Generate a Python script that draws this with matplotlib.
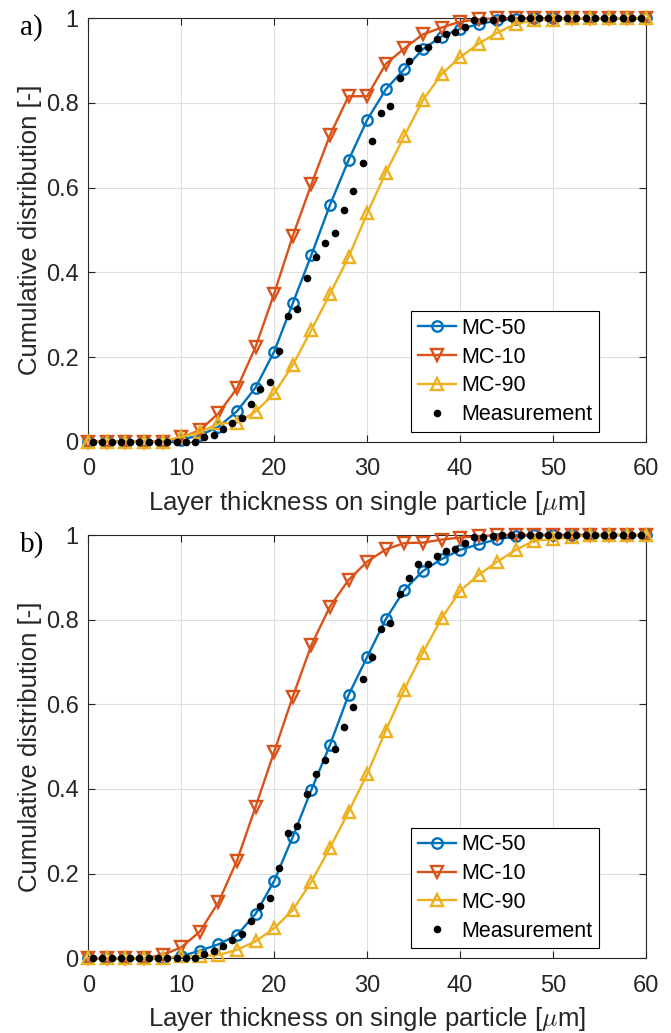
import matplotlib
matplotlib.use("Agg")
import matplotlib.pyplot as plt
import numpy as np

plt.rcParams['font.family'] = ['Liberation Sans', 'DejaVu Sans']
plt.rcParams['mathtext.fontset'] = 'cm'

# x positions of the simulation curves and of the measured points
x_mc = [0, 2, 4, 6, 8, 10, 12, 14, 16, 18, 20, 22, 24, 26, 28, 30,
        32, 34, 36, 38, 40, 42, 44, 46, 48, 50, 52, 54, 56, 58, 60]
x_meas = [0.5, 1.5, 2.5, 3.5, 4.5, 5.5, 6.5, 7.5, 8.5, 9.5, 10.5, 11.5,
          12.5, 13.5, 14.5, 15.5, 16.5, 17.5, 18.5, 19.5, 20.5, 21.5, 22.5, 23.5,
          24.5, 25.5, 26.5, 27.5, 28.5, 29.5, 30.5, 31.5, 32.5, 33.5, 34.5, 35.5,
          36.5, 37.5, 38.5, 39.5, 40.5, 41.5, 42.5, 43.5, 44.5, 45.5, 46.5, 47.5,
          48.5, 49.5, 50.5, 51.5, 52.5, 53.5, 54.5, 55.5, 56.5, 57.5, 58.5, 59.5]

meas = [0, 0, 0, 0, 0, 0, 0, 0, 0, 0, 0, 0,
        0.010, 0.017, 0.029, 0.043, 0.057, 0.089, 0.124, 0.142, 0.214, 0.297, 0.313, 0.387,
        0.436, 0.469, 0.494, 0.547, 0.593, 0.659, 0.711, 0.777, 0.793, 0.860, 0.899, 0.931,
        0.932, 0.950, 0.963, 0.967, 0.980, 0.995, 0.995, 0.997, 1, 1, 1, 1,
        1, 1, 1, 1, 1, 1, 1, 1, 1, 1, 1, 1]

# panel a)
mc50_a = [0, 0, 0, 0, 0, 0.005, 0.015, 0.035, 0.072, 0.128, 0.213, 0.327, 0.441, 0.559, 0.665, 0.760,
          0.832, 0.880, 0.927, 0.957, 0.975, 0.986, 0.995, 0.999, 1, 1, 1, 1, 1, 1, 1]
mc10_a = [0, 0, 0, 0, 0, 0.010, 0.027, 0.067, 0.126, 0.224, 0.350, 0.486, 0.608, 0.724, 0.816, 0.816,
          0.892, 0.929, 0.962, 0.978, 0.992, 0.998, 1, 1, 1, 1, 1, 1, 1, 1, 1]
mc90_a = [0, 0, 0, 0, 0, 0.012, 0.022, 0.043, 0.045, 0.071, 0.114, 0.181, 0.264, 0.349, 0.436, 0.539,
          0.635, 0.722, 0.807, 0.868, 0.908, 0.940, 0.966, 0.987, 0.995, 0.997, 1, 1, 1, 1, 1]

# panel b)
mc50_b = [0, 0, 0, 0, 0, 0.005, 0.018, 0.033, 0.055, 0.105, 0.183, 0.287, 0.398, 0.504, 0.622, 0.712,
          0.801, 0.870, 0.915, 0.943, 0.965, 0.978, 0.990, 0.997, 1, 1, 1, 1, 1, 1, 1]
mc10_b = [0, 0, 0, 0, 0.008, 0.026, 0.063, 0.132, 0.231, 0.358, 0.488, 0.618, 0.740, 0.831, 0.894, 0.937,
          0.966, 0.981, 0.982, 0.989, 0.994, 0.997, 1, 1, 1, 1, 1, 1, 1, 1, 1]
mc90_b = [0, 0, 0, 0, 0, 0.005, 0.005, 0.008, 0.020, 0.040, 0.071, 0.114, 0.181, 0.261, 0.346, 0.435,
          0.538, 0.635, 0.722, 0.803, 0.868, 0.906, 0.937, 0.965, 0.987, 0.990, 0.995, 1, 1, 1, 1]

labels = ['MC-50', 'MC-10', 'MC-90', 'Measurement']
c_blue = '#0072BD'
c_orange = '#D95319'
c_yellow = '#EDB120'
dark = '#262626'

W, H = 671, 1033
fig = plt.figure(figsize=(W / 100, H / 100), dpi=100)

def px_axes(left, top, right, bottom):
    return fig.add_axes([left / W, 1 - bottom / H, (right - left) / W, (bottom - top) / H])

ax_a = px_axes(88.3, 18.3, 646, 441.7)
ax_b = px_axes(88.3, 535, 646, 958.3)

panels = [(ax_a, mc50_a, mc10_a, mc90_a, 'a)'), (ax_b, mc50_b, mc10_b, mc90_b, 'b)')]

for ax, m50, m10, m90, tag in panels:
    ax.plot(x_mc, m50, '-o', color=c_blue, lw=1.7, ms=7.5, mew=1.7, mfc='none',
            clip_on=False, label=labels[0], zorder=3)
    ax.plot(x_mc, m10, '-v', color=c_orange, lw=1.7, ms=8, mew=1.7, mfc='none',
            clip_on=False, label=labels[1], zorder=3)
    ax.plot(x_mc, m90, '-^', color=c_yellow, lw=1.7, ms=8, mew=1.7, mfc='none',
            clip_on=False, label=labels[2], zorder=3)
    ax.plot(x_meas, meas, 'o', color='black', ms=5.5, mew=0, ls='none',
            clip_on=False, label=labels[3], zorder=4)

    ax.set_xlim(0, 60)
    ax.set_ylim(0, 1)
    ax.set_xticks([0, 10, 20, 30, 40, 50, 60])
    ax.set_yticks([0, 0.2, 0.4, 0.6, 0.8, 1])
    ax.set_yticklabels(['0', '0.2', '0.4', '0.6', '0.8', '1'])
    ax.tick_params(direction='in', top=True, right=True, length=5, width=0.8,
                   colors=dark, labelsize=17)
    ax.tick_params(axis='y', pad=7)
    ax.tick_params(axis='x', pad=12)
    for s in ax.spines.values():
        s.set_color(dark)
        s.set_linewidth(0.8)
    ax.grid(True, color='#dedede', lw=0.8)
    ax.set_axisbelow(True)
    ax.set_xlabel(r'Layer thickness on single particle [$\mu$m]', fontsize=18.5, color=dark, labelpad=6)
    ax.set_ylabel('Cumulative distribution [-]', fontsize=18.5, color=dark, labelpad=3)

    leg = ax.legend(loc='lower right', bbox_to_anchor=(0.9163, 0.024), borderaxespad=0,
                    fontsize=15.5, handlelength=1.8, handletextpad=0.25, labelspacing=0.36,
                    fancybox=False, framealpha=1, edgecolor='black', borderpad=0.3)
    leg.get_frame().set_linewidth(0.8)

    ax.text(-0.1225, 0.978, tag, transform=ax.transAxes, fontsize=21,
            family='Liberation Serif', va='center', ha='left')

fig.savefig('out.png', dpi=100)
